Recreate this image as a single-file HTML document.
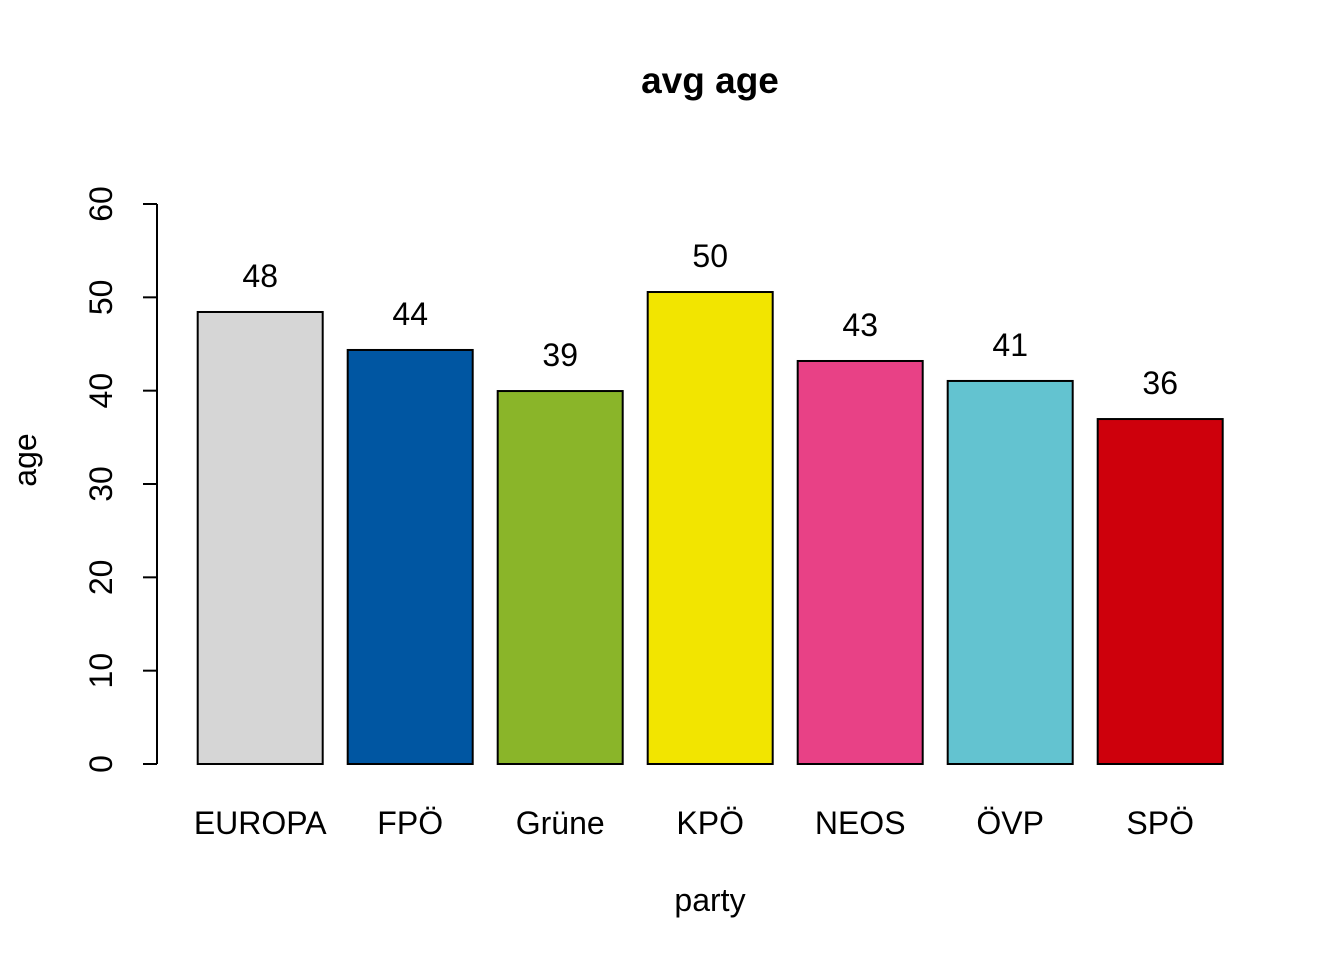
<!DOCTYPE html>
<html><head><meta charset="utf-8"><style>
html,body{margin:0;padding:0;background:#fff}
svg{display:block;font-family:"Liberation Sans",Arial,sans-serif}
</style></head><body>
<svg id="chart" width="1344" height="960" viewBox="0 0 1344 960" xmlns="http://www.w3.org/2000/svg">
<rect width="1344" height="960" fill="#fff"/>
<text x="710" y="93" text-anchor="middle" font-size="37" font-weight="bold">avg age</text>
<text x="710" y="911" text-anchor="middle" font-size="32">party</text>
<text transform="translate(36,460) rotate(-90)" text-anchor="middle" font-size="32">age</text>
<g id="yaxis"></g>
<g id="bars"></g>
</svg>
<script>
const categories = ["EUROPA","FPÖ","Grüne","KPÖ","NEOS","ÖVP","SPÖ"];
const values = [48.43, 44.36, 39.96, 50.57, 43.18, 41.04, 36.96];
const valueLabels = ["48","44","39","50","43","41","36"];
const colors = ["#d6d6d6","#0056a2","#8ab529","#f2e500","#e84186","#63c3d0","#ce000c"];
const yTicks = [0,10,20,30,40,50,60];

const NS = "http://www.w3.org/2000/svg";
const y0 = 764, pxPer = 560/60;
const yScale = v => y0 - v*pxPer;
const barX = i => 197.7 + 150*i;
const barW = 125;
function mk(tag, attrs, parent){const e=document.createElementNS(NS,tag);for(const k in attrs)e.setAttribute(k,attrs[k]);parent.appendChild(e);return e;}

const ya = document.getElementById('yaxis');
const axl = mk('line',{x1:157,x2:157,y1:yScale(yTicks[0]),y2:yScale(yTicks[yTicks.length-1]),stroke:'#000','stroke-width':2},ya);


yTicks.forEach(t=>{
  const y=yScale(t);
  const l=mk('line',{x1:143,x2:157,y1:y,y2:y,stroke:'#000','stroke-width':2},ya);
  
  
  const tx=mk('text',{transform:`translate(112,${y}) rotate(-90)`,'text-anchor':'middle','font-size':32},ya);
  tx.textContent=t;
  
  
});

const bg = document.getElementById('bars');
categories.forEach((c,i)=>{
  const top=yScale(values[i]);
  const r=mk('rect',{x:barX(i),y:top,width:barW,height:y0-top,fill:colors[i],stroke:'#000','stroke-width':2},bg);
  
  
  const vl=mk('text',{x:barX(i)+barW/2,y:top-25,'text-anchor':'middle','font-size':32},bg);
  vl.textContent=valueLabels[i];
  
  
  const cl=mk('text',{x:barX(i)+barW/2,y:834,'text-anchor':'middle','font-size':32},bg);
  cl.textContent=c;
  
  
});
</script>
</body></html>
